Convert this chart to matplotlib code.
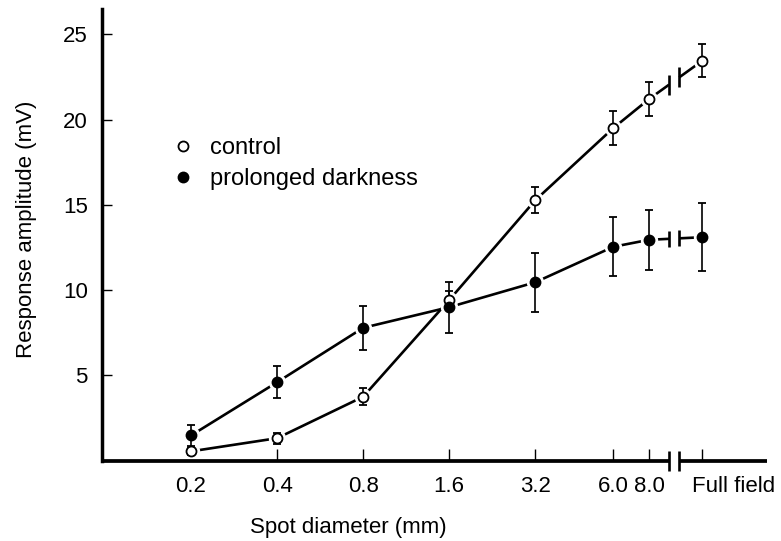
import numpy as np
import matplotlib
matplotlib.use('Agg')
import matplotlib.pyplot as plt
from matplotlib.transforms import ScaledTranslation

plt.rcParams['font.family'] = ['Liberation Sans', 'DejaVu Sans']

# spot diameters (mm) and where "Full field" sits on the log axis
sizes = [0.2, 0.4, 0.8, 1.6, 3.2, 6.0, 8.0]
full_x = 12.3
tick_labels = ['0.2', '0.4', '0.8', '1.6', '3.2', '6.0', '8.0', 'Full field']

# response amplitude (mV): last value is the full field one
control = [0.55, 1.32, 3.75, 9.42, 15.27, 19.5, 21.2, 23.45]
control_err = [0.22, 0.33, 0.5, 0.55, 0.77, 1.0, 1.0, 0.95]
dark = [1.48, 4.6, 7.79, 9.0, 10.46, 12.54, 12.95, 13.1]
dark_err = [0.6, 0.93, 1.28, 1.5, 1.72, 1.72, 1.77, 2.0]

brk = (9.4, 10.2)   # axis break

fig = plt.figure(figsize=(7.81, 5.41), dpi=100)
ax = fig.add_axes([0.1302, 0.1484, 0.852, 0.8344])
ax.set_xscale('log', base=2)
ax.set_xlim(0.0974, 20.7)
ax.set_ylim(0, 26.46)

xs = sizes + [full_x]


def draw_series(vals, errs, face, brk_ms):
    lx = np.log(xs[-2:])
    yb = [np.interp(np.log(b), lx, vals[-2:]) for b in brk]
    ax.plot(sizes + [brk[0]], vals[:-1] + [yb[0]], color='black', lw=1.9, zorder=1,
            solid_capstyle='butt')
    ax.plot([brk[1], full_x], [yb[1], vals[-1]], color='black', lw=1.9, zorder=1,
            solid_capstyle='butt')
    ax.plot(brk, yb, ls='none', marker='|', ms=brk_ms, mew=1.9, color='black', zorder=1)
    # white ring so the joining lines stop short of the markers
    ax.plot(xs, vals, ls='none', marker='o', ms=11.5, color='white', zorder=2)
    ax.errorbar(xs, vals, yerr=errs, fmt='none', ecolor='black', elinewidth=1.2,
                capsize=3.2, capthick=1.3, zorder=3)
    h, = ax.plot(xs, vals, ls='none', marker='o', ms=7.2, mfc=face, mec='black',
                 mew=1.3, zorder=4)
    return h


h_ctrl = draw_series(control, control_err, 'white', 15)
h_dark = draw_series(dark, dark_err, 'black', 12)

# axes: left spine, bottom line drawn by hand with a break
for s in ['top', 'right', 'bottom']:
    ax.spines[s].set_visible(False)
ax.spines['left'].set_linewidth(2.5)
xt = ax.get_xaxis_transform()
ax.plot([0.0974, brk[0]], [0, 0], transform=xt, color='black', lw=2.7,
        solid_capstyle='butt', clip_on=False)
ax.plot([brk[1], 20.7], [0, 0], transform=xt, color='black', lw=2.7,
        solid_capstyle='butt', clip_on=False)
ax.plot(brk, [0, 0], transform=xt, ls='none', marker='|', ms=15, mew=1.9,
        color='black', clip_on=False)

ax.set_xticks(xs)
ax.set_xticklabels(tick_labels)
ax.xaxis.set_minor_locator(matplotlib.ticker.NullLocator())
ax.set_yticks([5, 10, 15, 20, 25])
ax.tick_params(axis='x', direction='in', length=8.5, width=1.0, pad=11, labelsize=16)
ax.tick_params(axis='y', direction='in', length=7.5, width=1.0, pad=10, labelsize=16)
lab = ax.get_xticklabels()[-1]
lab.set_horizontalalignment('left')
lab.set_transform(lab.get_transform() + ScaledTranslation(-10 / 100, 0, fig.dpi_scale_trans))

ax.set_xlabel('Spot diameter (mm)', fontsize=16)
ax.xaxis.set_label_coords(0.371, -0.1247)
ax.set_ylabel('Response amplitude (mV)', fontsize=16)
ax.yaxis.set_label_coords(-0.0973, 0.513)

ax.legend([h_ctrl, h_dark], ['control', 'prolonged darkness'], loc='upper left',
          bbox_to_anchor=(0.1076, 0.717), frameon=False, fontsize=17,
          handlelength=0.8, handletextpad=0.75, borderaxespad=0, borderpad=0,
          labelspacing=0.4, numpoints=1)

fig.savefig('out.png', dpi=100)
